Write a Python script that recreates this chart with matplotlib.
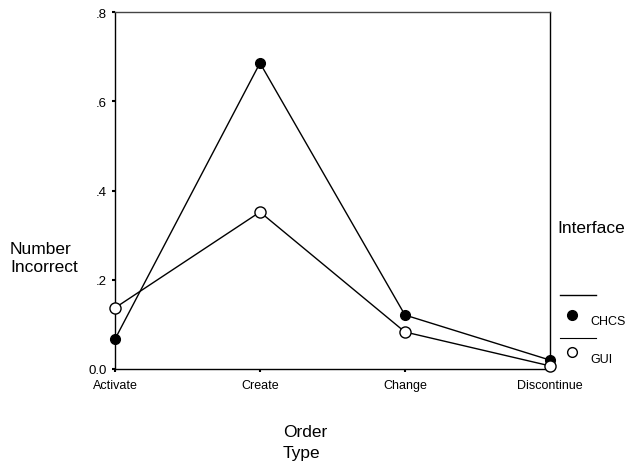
import matplotlib
matplotlib.use("Agg")
import matplotlib.pyplot as plt
from matplotlib.lines import Line2D

plt.rcParams['font.family'] = ['Liberation Sans', 'DejaVu Sans']

# data
order_types = ["Activate", "Create", "Change", "Discontinue"]
chcs = [0.067, 0.686, 0.121, 0.020]
gui = [0.137, 0.352, 0.083, 0.007]
y_ticks = [0.0, 0.2, 0.4, 0.6, 0.8]
y_tick_labels = ["0.0", ".2", ".4", ".6", ".8"]

fig = plt.figure(figsize=(6.34, 4.64), dpi=100)
ax = fig.add_axes([0.1814, 0.2026, 0.686, 0.769])

x = list(range(len(order_types)))
ax.plot(x, chcs, color="black", lw=1.0, marker="o", ms=7,
        markerfacecolor="black", markeredgecolor="black", clip_on=False, zorder=3)
ax.plot(x, gui, color="black", lw=1.0, marker="o", ms=8,
        markerfacecolor="white", markeredgecolor="black", clip_on=False, zorder=3)

ax.set_xlim(0, 3)
ax.set_ylim(0, 0.8)
ax.set_xticks(x)
ax.set_xticklabels(order_types, fontsize=9)
ax.set_yticks(y_ticks)
ax.set_yticklabels(y_tick_labels, fontsize=9.5)
ax.tick_params(axis="x", direction="out", length=2, width=1.5, pad=5)
ax.tick_params(axis="y", direction="out", length=2, width=1.5, pad=4)
for s in ax.spines.values():
    s.set_linewidth(1.0)
ax.spines["top"].set_color("#444444")

# axis titles placed like the original
fig.text(10 / 634, 1 - 259 / 464, "Number\nIncorrect", fontsize=12.5, ha="left", va="center",
         linespacing=1.25)
fig.text(283 / 634, 1 - 443 / 464, "Order\nType", fontsize=12.5, ha="left", va="center",
         multialignment="left", linespacing=1.45)
fig.text(557 / 634, 1 - 229 / 464, "Interface", fontsize=12.5, ha="left", va="center")

# hand-made legend on the right
fig.add_artist(Line2D([560 / 634, 596 / 634], [1 - 296 / 464] * 2, color="black", lw=1))
fig.add_artist(Line2D([572 / 634], [1 - 316 / 464], marker="o", ms=7, color="black", lw=0))
fig.text(590 / 634, 1 - 322 / 464, "CHCS", fontsize=9, ha="left", va="center")
fig.add_artist(Line2D([560 / 634, 596 / 634], [1 - 339 / 464] * 2, color="black", lw=0.8))
fig.add_artist(Line2D([572 / 634], [1 - 353 / 464], marker="o", ms=7, color="black", lw=0,
                      markerfacecolor="white"))
fig.text(590 / 634, 1 - 360 / 464, "GUI", fontsize=9, ha="left", va="center")

fig.savefig("out.png", dpi=100)
